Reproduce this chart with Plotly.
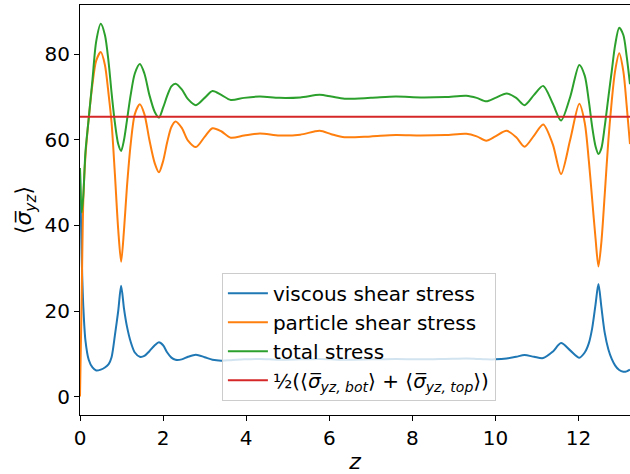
import plotly.graph_objects as go

z = [0, 0.04, 0.08, 0.13, 0.21, 0.3, 0.39, 0.5, 0.6, 0.69, 0.76, 0.84, 0.92, 0.99,
     1.06, 1.13, 1.22, 1.32, 1.44, 1.55, 1.67, 1.8, 1.9, 2.0, 2.1, 2.2, 2.3, 2.45,
     2.6, 2.79, 3.0, 3.19, 3.4, 3.63, 3.95, 4.33, 4.8, 5.3, 5.77, 6.05, 6.37, 7.0,
     7.6, 8.2, 8.8, 9.3, 9.55, 9.78, 10.0, 10.27, 10.5, 10.7, 10.93, 11.15, 11.38,
     11.58, 11.8, 12.02, 12.15, 12.25, 12.33, 12.41, 12.48, 12.55, 12.63, 12.72,
     12.8, 12.88, 12.98, 13.08, 13.16, 13.24]

viscous = [53, 33, 21, 13.2, 8.6, 6.8, 6.1, 6.3, 6.8, 7.6, 9.2, 14.3, 20.0, 25.9,
           20.5, 16.4, 12.8, 10.3, 9.3, 9.5, 10.6, 12.0, 12.7, 12.0, 10.3, 9.1, 8.6, 8.7,
           9.3, 9.8, 9.2, 8.6, 8.4, 8.5, 8.7, 8.8, 8.6, 8.7, 8.8, 8.7, 8.6, 8.7,
           8.8, 8.7, 8.8, 8.9, 8.8, 8.7, 8.7, 8.9, 9.3, 9.7, 9.3, 9.0, 10.5,
           12.5, 10.8, 9.1, 10.3, 12.5, 16, 21.5, 26.3, 21, 15, 11,
           8.8, 7.3, 6.2, 5.8, 5.9, 6.3]

particle = [0, 23, 46, 56, 65, 73, 78.5, 80.5, 77.5, 70.5, 64, 52, 39, 31.5,
            39, 49, 59, 66, 68.3, 66, 60, 54.5, 52.4, 55, 59.5, 63, 64.3, 62.8,
            59.8, 58.3, 60.7, 62.7, 62, 60.5, 61, 61.5, 61, 61.2, 62.1, 61.3, 60.6, 60.8,
            61.1, 61, 61.1, 61.4, 60.8, 59.8, 60.8, 62.1, 60.6, 58.4, 61, 63.6, 59,
            52.0, 60, 68.4, 64, 55, 46, 37, 30.4, 36, 47, 60,
            69, 76, 80.2, 76, 68, 59]

total = [53.4, 43, 47, 57, 65, 74, 83, 87.1, 84.5, 78, 71, 64, 59, 57.4,
         60, 64.5, 70.5, 75.5, 77.7, 75.5, 70.5, 66.5, 65.2, 67.5, 70.3, 72.5, 73.1, 71.8,
         69.5, 68.1, 69.8, 71.4, 70.5, 69.3, 69.8, 70.1, 69.8, 69.9, 70.5, 70.1, 69.6, 69.8,
         70.1, 69.9, 70.0, 70.3, 69.8, 69.0, 69.8, 70.8, 69.8, 68.1, 70.5, 72.6, 68.5,
         64.5, 70, 77.5, 75, 69, 63, 58.5, 56.7, 58, 63, 70,
         76, 82, 86.2, 84.5, 79.5, 73]

mean_wall_z = [0, 13.24]
mean_wall = [65.4, 65.4]

labels = ["viscous shear stress", "particle shear stress", "total stress",
          "½(⟨<i>σ̅</i><sub><i>yz, bot</i></sub>⟩ + ⟨<i>σ̅</i><sub><i>yz, top</i></sub>⟩)"]
colors = ["#1f77b4", "#ff7f0e", "#2ca02c", "#d62728"]

fig = go.Figure()
for ys, lab, col in zip([viscous, particle, total], labels[:3], colors[:3]):
    fig.add_trace(go.Scatter(x=z, y=ys, mode="lines", name=lab,
                             line=dict(color=col, width=2, shape="spline", smoothing=0.8)))
fig.add_trace(go.Scatter(x=mean_wall_z, y=mean_wall, mode="lines", name=labels[3],
                         line=dict(color=colors[3], width=2)))

font = dict(family="DejaVu Sans", size=20, color="black")
fig.update_layout(
    width=630, height=474,
    margin=dict(l=80, r=0, t=5, b=59),
    paper_bgcolor="white", plot_bgcolor="white",
    font=font,
    showlegend=True,
    legend=dict(x=0.258, y=0.347, xanchor="left", yanchor="top",
                bgcolor="rgba(255,255,255,0.8)", bordercolor="#cccccc", borderwidth=1,
                font=dict(family="DejaVu Sans", size=20, color="black"),
                tracegroupgap=0, itemwidth=40),
    xaxis=dict(range=[0, 13.24], tickvals=[0, 2, 4, 6, 8, 10, 12],
               showgrid=False, zeroline=False, showline=True, linecolor="black",
               linewidth=1.1, mirror=True, ticks="outside", ticklen=5, tickwidth=1.1,
               tickcolor="black", tickfont=font,
               title=dict(text="<i>z</i>", font=dict(family="DejaVu Sans", size=22), standoff=6)),
    yaxis=dict(range=[-4.3, 91.5], tickvals=[0, 20, 40, 60, 80],
               showgrid=False, zeroline=False, showline=True, linecolor="black",
               linewidth=1.1, ticks="outside", ticklen=5, tickwidth=1.1,
               tickcolor="black", tickfont=font,
               title=dict(text="⟨<i>σ̅</i><sub><i>yz</i></sub>⟩",
                          font=dict(family="DejaVu Sans", size=22), standoff=6)),
)
fig.write_html("out.html")
